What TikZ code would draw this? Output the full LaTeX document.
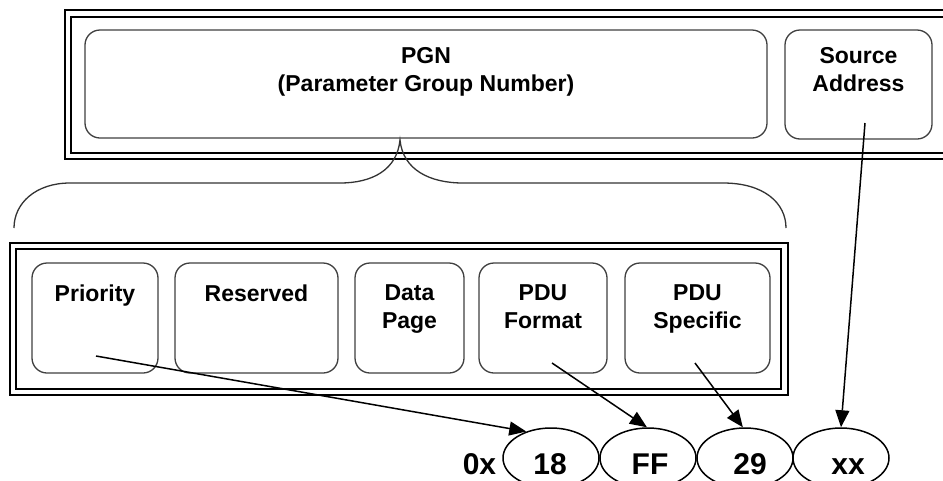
\documentclass[tikz,border=0pt]{standalone}
\usepackage{fontspec}
\setmainfont{Liberation Sans}
\usetikzlibrary{arrows.meta,shapes.geometric}
\begin{document}
\begin{tikzpicture}[x=1pt,y=-1pt,
  frameout/.style={draw=black,line width=2.2pt},
  framein/.style={draw=black,line width=1.8pt},
  field/.style={draw=black!75,line width=1.3pt,rounded corners=15pt,inner sep=0pt},
  lbl/.style={font=\bfseries\fontsize{23}{28}\selectfont,align=center,anchor=north,inner sep=0pt},
  hexbox/.style={ellipse,draw=black,line width=1.5pt,minimum width=96pt,minimum height=60pt,inner sep=0pt},
  hexlbl/.style={font=\bfseries\fontsize{30}{36}\selectfont,anchor=base,inner sep=0pt},
  ptr/.style={draw=black,line width=1.5pt,-{Triangle[length=17pt,width=14pt]}},
  brace/.style={draw=black!80,line width=1.3pt}]

\useasboundingbox (0,0) rectangle (943,480);
\fill[white] (0,0) rectangle (943,480);
\clip (0,0) rectangle (943,480);

% top frame
\draw[frameout] (65,10) rectangle (985,159);
\draw[framein] (71,17) rectangle (980,153);
% bottom frame
\draw[frameout] (10,243) rectangle (788,395);
\draw[framein] (16,249) rectangle (781,389);

% top fields
\node[field,minimum width=682pt,minimum height=108pt] (pgn) at (426,84) {};
\node[field,minimum width=147pt,minimum height=109pt] (sa) at (858.5,84.5) {};
\node[lbl] (pgnl) at ([shift={(0,18)}]pgn.north) {PGN\\(Parameter Group Number)};
\node[lbl] (sal) at ([shift={(0,18)}]sa.north) {Source\\Address};

% bottom fields
\node[field,minimum width=126pt,minimum height=110pt] (pri) at (95,318) {};
\node[field,minimum width=163pt,minimum height=110pt] (res) at (256.5,318) {};
\node[field,minimum width=109pt,minimum height=110pt] (dp) at (409.5,318) {};
\node[field,minimum width=128pt,minimum height=110pt] (pf) at (543,318) {};
\node[field,minimum width=145pt,minimum height=110pt] (ps) at (697.5,318) {};
\node[lbl] (pril) at ([shift={(0,22)}]pri.north) {Priority};
\node[lbl] (resl) at ([shift={(0,22)}]res.north) {Reserved};
\node[lbl] (dpl) at ([shift={(0,22)}]dp.north) {Data\\Page};
\node[lbl] (pfl) at ([shift={(0,22)}]pf.north) {PDU\\Format};
\node[lbl] (psl) at ([shift={(0,22)}]ps.north) {PDU\\Specific};

% brace
\draw[brace] (14,228) .. controls (14,203) and (36,183) .. (70,183) -- (340,183)
  .. controls (372,183) and (397,170) .. (400,140)
  .. controls (403,170) and (430,183) .. (463,183) -- (723,183)
  .. controls (764,183) and (786,203) .. (786,228);

% bytes
\node[hexbox] (e1) at (551,458) {};
\node[hexbox] (e2) at (648,458) {};
\node[hexbox] (e3) at (745,458) {};
\node[hexbox] (e4) at (841,458) {};
\node[hexlbl] (ox) at (479.5,474) {0x};
\node[hexlbl] (t1) at (550,474) {18};
\node[hexlbl] (t2) at (650,474) {FF};
\node[hexlbl] (t3) at (750,474) {29};
\node[hexlbl] (t4) at (848,474) {xx};

% pointers
\coordinate (p1) at (96,356);
\coordinate (p2) at (552,363);
\coordinate (p3) at (695,363);
\coordinate (p4) at (865,123);
\draw[ptr] (p1) -- (e1.133);
\draw[ptr] (p2) -- (e2.92);
\draw[ptr] (p3) -- (e3.94);
\draw[ptr] (p4) -- (e4.north);
\end{tikzpicture}
\end{document}
